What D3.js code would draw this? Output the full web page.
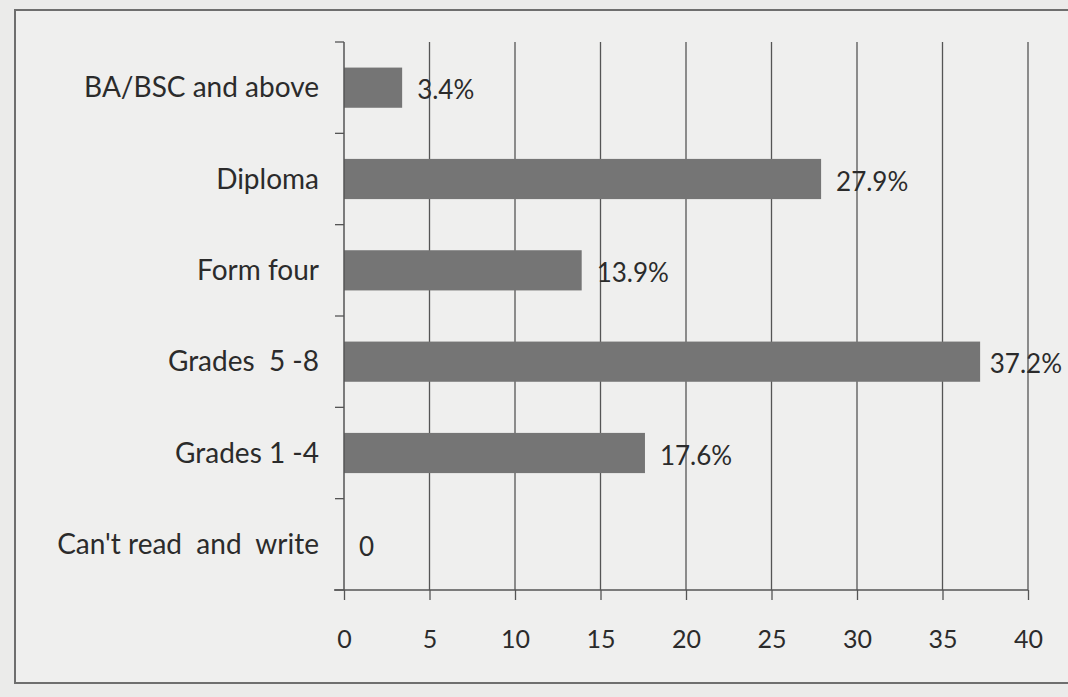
<!DOCTYPE html>
<html>
<head>
<meta charset="utf-8">
<script src="https://cdn.jsdelivr.net/npm/d3@7"></script>
<style>
  html, body { margin: 0; padding: 0; background: #ebebea; }
  svg { display: block; }
</style>
</head>
<body>
<svg id="chart" width="1068" height="697"></svg>
<script>
// Education level of respondents (percent)
const categories = ["BA/BSC and above", "Diploma", "Form four", "Grades  5 -8", "Grades 1 -4", "Can't read  and  write"];
const values = [3.4, 27.9, 13.9, 37.2, 17.6, 0];
const valueLabels = ["3.4%", "27.9%", "13.9%", "37.2%", "17.6%", "0"];
const xTicks = [0, 5, 10, 15, 20, 25, 30, 35, 40];

const svg = d3.select("#chart");
const W = 1068, H = 697;
const margin = { left: 344, right: 40, top: 42, bottom: 107 };
const font = "Lato, 'Open Sans', sans-serif";
const ink = "#2b2b2b";

// page frame
svg.append("rect")
  .attr("x", 15).attr("y", 10)
  .attr("width", 1080).attr("height", 673)
  .attr("fill", "#efefee")
  .attr("stroke", "#6e6e6e").attr("stroke-width", 2);

const x = d3.scaleLinear().domain([0, 40]).range([margin.left, W - margin.right]);
const y = d3.scaleBand().domain(categories).range([margin.top, H - margin.bottom]).paddingInner(0.56).paddingOuter(0.28);
const yEdges = d3.scaleLinear().domain([0, categories.length]).range([margin.top, H - margin.bottom]);

// vertical gridlines
svg.append("g")
  .selectAll("line")
  .data(xTicks.filter(d => d > 0))
  .join("line")
  .attr("x1", d => x(d)).attr("x2", d => x(d))
  .attr("y1", margin.top).attr("y2", H - margin.bottom)
  .attr("stroke", "#555").attr("stroke-width", 1.3);

// bars
svg.append("g")
  .selectAll("rect")
  .data(values)
  .join("rect")
  .attr("x", x(0))
  .attr("y", (d, i) => y(categories[i]))
  .attr("width", d => x(d) - x(0))
  .attr("height", y.bandwidth())
  .attr("fill", "#757575");

// x axis
const xAxis = svg.append("g")
  .attr("transform", `translate(0,${H - margin.bottom})`)
  .call(d3.axisBottom(x).tickValues(xTicks).tickSize(10).tickPadding(30));
xAxis.select(".domain").attr("stroke", "#555").attr("stroke-width", 1.5)
  .attr("d", `M${x(0) - 10},0H${x(40)}`);
xAxis.selectAll(".tick line").attr("stroke", "#555").attr("stroke-width", 1.3);
xAxis.selectAll(".tick text")
  .attr("fill", ink).attr("font-family", font).attr("font-size", 25);

// y axis with ticks at category boundaries
const yAxis = svg.append("g").attr("transform", `translate(${x(0)},0)`);
yAxis.append("line")
  .attr("x1", 0).attr("x2", 0)
  .attr("y1", margin.top).attr("y2", H - margin.bottom)
  .attr("stroke", "#555").attr("stroke-width", 1.5);
yAxis.selectAll("line.tick")
  .data(d3.range(categories.length + 1))
  .join("line")
  .attr("class", "tick")
  .attr("x1", -9).attr("x2", 0)
  .attr("y1", d => yEdges(d)).attr("y2", d => yEdges(d))
  .attr("stroke", "#555").attr("stroke-width", 1.3);

// category labels
svg.append("g")
  .selectAll("text")
  .data(categories)
  .join("text")
  .attr("x", x(0) - 25)
  .attr("y", d => y(d) + y.bandwidth() / 2)
  .attr("dy", "0.35em")
  .attr("text-anchor", "end")
  .attr("fill", ink)
  .attr("font-family", font).attr("font-size", 28)
  .style("white-space", "pre")
  .text(d => d);

// value labels, kept inside the page on the right
svg.append("g")
  .selectAll("text")
  .data(values)
  .join("text")
  .attr("y", (d, i) => y(categories[i]) + y.bandwidth() / 2)
  .attr("dy", "0.45em")
  .attr("fill", ink)
  .attr("font-family", font).attr("font-size", 26)
  .text((d, i) => valueLabels[i])
  .attr("x", function (d) {
    const len = this.getComputedTextLength();
    return Math.min(x(d) + 15, W - 6 - len);
  });
</script>
</body>
</html>
